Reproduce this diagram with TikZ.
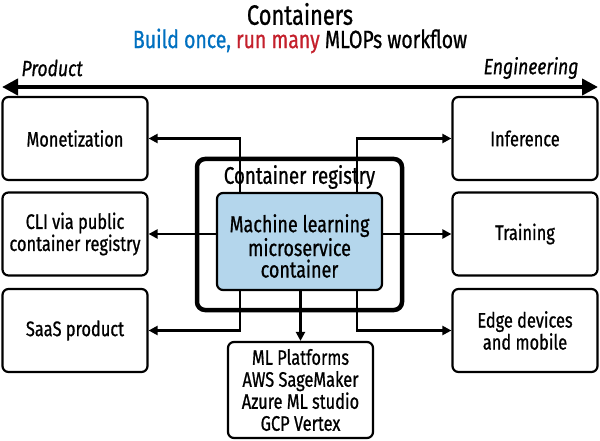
\documentclass[tikz,border=0pt]{standalone}
\usepackage{fontspec}
\setmainfont[FakeStretch=0.78,FakeBold=0.8,BoldFont={Fira Sans},ItalicFont={Fira Sans Italic},ItalicFeatures={FakeStretch=0.8,FakeBold=0.8}]{Fira Sans}
\usetikzlibrary{arrows.meta}
\definecolor{ttblue}{RGB}{0,112,192}
\definecolor{ttred}{RGB}{196,32,44}
\definecolor{boxblue}{RGB}{180,214,236}
\tikzset{
  box/.style={draw, line width=2.2pt, rounded corners=6pt, fill=white, align=center,
    minimum width=145pt, minimum height=83pt, inner sep=2pt,
    font=\fontsize{21}{22}\selectfont},
  conn/.style={line width=2.2pt, -{Triangle[length=9pt,width=9pt]}},
  title/.style={inner sep=0pt},
}
\begin{document}
\begin{tikzpicture}[x=1pt,y=-1pt]
\useasboundingbox (0,0) rectangle (600,441);
% titles
\node[title, font=\fontsize{28}{30}\selectfont] (t1) at (300,14) {Containers};
\node[title, font=\fontsize{25}{27}\selectfont] (t2) at (300,41) {\textcolor{ttblue}{Build once,} \textcolor{ttred}{run many} MLOPs workflow};
% product / engineering arrow
\coordinate (la) at (2,87);
\coordinate (ra) at (598,87);
\draw[line width=4pt, {Triangle[length=16pt,width=16pt]}-{Triangle[length=16pt,width=16pt]}] (la) -- (ra);
\node[font=\fontsize{22}{24}\selectfont\itshape, anchor=west] (prod) at (18,68) {Product};
\node[font=\fontsize{22}{24}\selectfont\itshape, anchor=east] (eng) at (582,68) {Engineering};
% side boxes
\node[box] (mon) at (75,138.5) {Monetization};
\node[box] (cli) at (75,234) {CLI via public\\container registry};
\node[box] (saas) at (75,330.5) {SaaS product};
\node[box] (inf) at (525,138.5) {Inference};
\node[box] (trn) at (525,234) {Training};
\node[box] (edge) at (525,330.5) {Edge devices\\and mobile};
% registry
\node[draw, line width=4.5pt, rounded corners=8pt, minimum width=205pt, minimum height=151pt] (reg) at (299.5,234.5) {};
\node[font=\fontsize{24}{26}\selectfont] (regl) at (299.5,177) {Container registry};
\node[draw, line width=2.2pt, rounded corners=6pt, fill=boxblue, minimum width=165pt, minimum height=97pt] (ml) at (299.5,241.5) {};
\node[align=center, font=\fontsize{23}{21.5}\selectfont] (mlt) at (299.5,246) {Machine learning\\microservice\\container};
% ML platforms
\node[box, minimum width=145pt, minimum height=96pt, font=\fontsize{21}{22}\selectfont] (mlp) at (300.5,390) {ML Platforms\\AWS SageMaker\\Azure ML studio\\GCP Vertex};
% connectors
\coordinate (ul) at (240,0);
\coordinate (ur) at (357,0);
\draw[conn] (ml.north -| ul) |- (mon.east);
\draw[conn] (ml.north -| ur) |- (inf.west);
\draw[conn] (ml.west |- cli.east) -- (cli.east);
\draw[conn] (ml.east |- trn.west) -- (trn.west);
\draw[conn] (ml.south -| ul) |- (saas.east);
\draw[conn] (ml.south -| ur) |- (edge.west);
\draw[conn] (ml.south -| mlp.north) -- (mlp.north);
\end{tikzpicture}
\end{document}
